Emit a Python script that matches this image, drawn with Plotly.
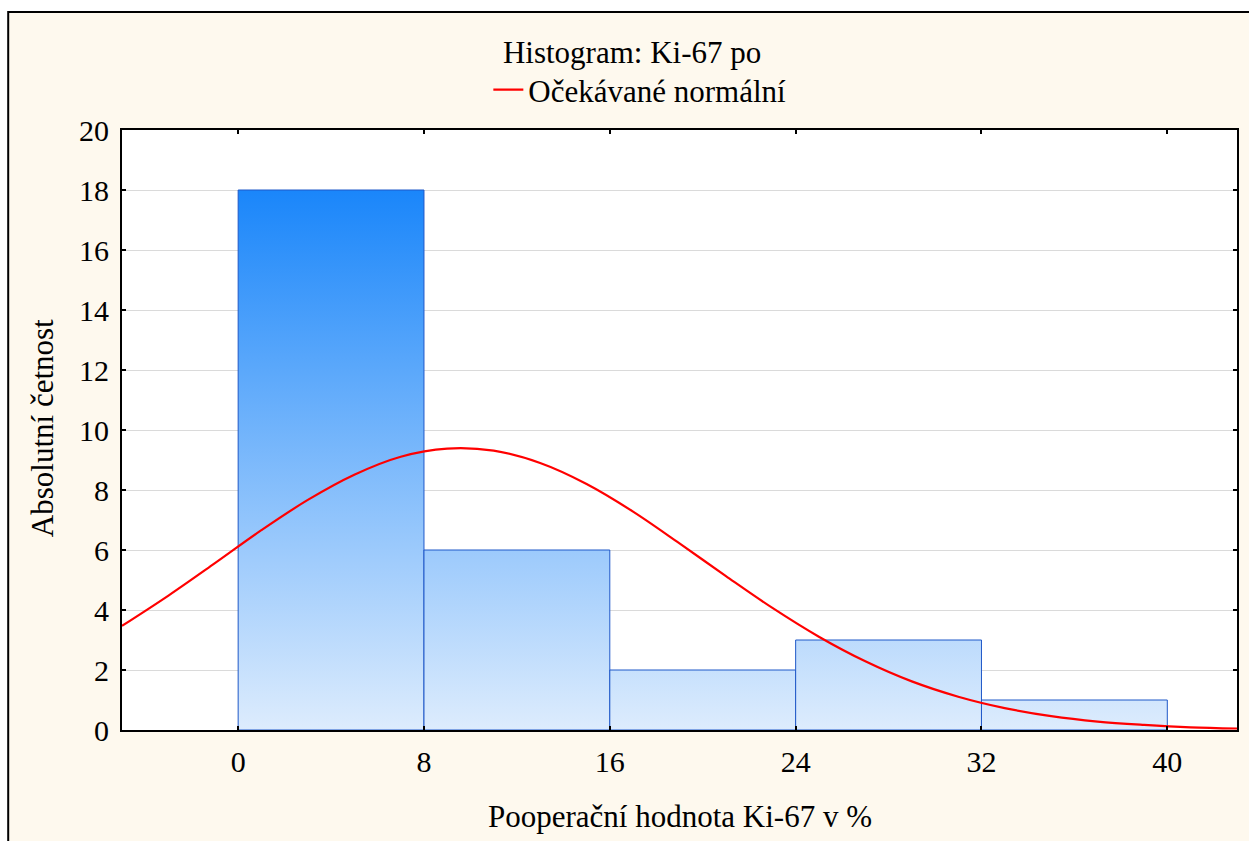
import plotly.graph_objects as go

# Histogram bins (Ki-67 %, bin edges) and absolute counts
bin_lo = [0, 8, 16, 24, 32]
bin_hi = [8, 16, 24, 32, 40]
counts = [18, 6, 2, 3, 1]

# Expected normal curve, sampled along the x axis
curve_x = [-5, -3, -1, 1, 3, 5, 7, 9, 11, 13, 15, 17, 19, 21, 23, 25,
           27, 29, 31, 33, 35, 37, 39, 41, 43]
curve_y = [3.47, 4.48, 5.56, 6.66, 7.67, 8.51, 9.11, 9.38, 9.31, 8.90,
           8.20, 7.28, 6.22, 5.13, 4.07, 3.11, 2.29, 1.62, 1.11, 0.73,
           0.46, 0.28, 0.17, 0.09, 0.05]

x_ticks = [0, 8, 16, 24, 32, 40]
y_ticks = [0, 2, 4, 6, 8, 10, 12, 14, 16, 18, 20]

FONT = "Liberation Serif"
CREAM = "#FEF9EE"
TXT = 31

fig = go.Figure()

# bars as filled outlines with a vertical gradient in data units
for lo, hi, c in zip(bin_lo, bin_hi, counts):
    fig.add_trace(go.Scatter(
        x=[lo, lo, hi, hi, lo],
        y=[0, c, c, 0, 0],
        mode="lines",
        fill="toself",
        fillgradient=dict(
            type="vertical",
            start=0,
            stop=max(counts),
            colorscale=[[0, "#DDECFD"], [1, "#1A86FA"]],
        ),
        line=dict(color="#1F58C8", width=1),
        showlegend=False,
        hoverinfo="skip",
    ))

fig.add_trace(go.Scatter(
    x=curve_x, y=curve_y,
    mode="lines",
    line=dict(color="#FF0000", width=2.2, shape="spline"),
    name="Očekávané normální",
    showlegend=True,
))

L, R, T, B = 122, 10, 130, 111
W, H = 1249, 841
pw, ph = W - L - R, H - T - B


def px_x(p):
    return (p - L) / pw


def px_y(p):
    return (H - B - p) / ph


fig.update_layout(
    width=W, height=H,
    margin=dict(l=L, r=R, t=T, b=B),
    paper_bgcolor="white",
    plot_bgcolor="white",
    font=dict(family=FONT, size=TXT, color="black"),
    title=dict(
        text="Histogram: Ki-67 po",
        x=px_x(633), xref="paper", xanchor="center",
        y=1 - 52 / H, yref="container", yanchor="middle",
        font=dict(family=FONT, size=TXT, color="black"),
    ),
    legend=dict(
        x=px_x(489), xanchor="left",
        y=px_y(90), yanchor="middle",
        bgcolor="rgba(0,0,0,0)",
        font=dict(family=FONT, size=TXT, color="black"),
        itemwidth=30,
    ),
    xaxis=dict(
        range=[-5, 43],
        tickvals=x_ticks,
        ticktext=[str(v) for v in x_ticks],
        showgrid=False, zeroline=False,
        showline=True, linecolor="black", linewidth=2, mirror="allticks",
        ticks="inside", ticklen=4, tickwidth=2, tickcolor="black",
        tickfont=dict(family=FONT, size=30, color="black"),
        ticklabelstandoff=4,
    ),
    yaxis=dict(
        range=[0, 20],
        tickvals=y_ticks,
        ticktext=[str(v) for v in y_ticks],
        showgrid=True, gridcolor="#DADADA", gridwidth=1,
        zeroline=False,
        showline=True, linecolor="black", linewidth=2, mirror="allticks",
        ticks="inside", ticklen=4, tickwidth=2, tickcolor="black",
        tickfont=dict(family=FONT, size=30, color="black"),
        ticklabelstandoff=5,
    ),
    shapes=[
        # cream panel with black frame behind everything
        dict(type="rect", xref="paper", yref="paper",
             x0=px_x(8), x1=px_x(W + 20), y0=px_y(12), y1=px_y(H + 20),
             fillcolor=CREAM, line=dict(color="black", width=2),
             layer="below"),
        # white plotting area on top of the panel
        dict(type="rect", xref="paper", yref="paper",
             x0=0, x1=1, y0=0, y1=1,
             fillcolor="white", line=dict(width=0), layer="below"),
    ],
    annotations=[
        dict(text="Pooperační hodnota Ki-67 v %",
             xref="paper", yref="paper", x=0.5, y=px_y(816),
             xanchor="center", yanchor="middle", showarrow=False,
             font=dict(family=FONT, size=TXT, color="black")),
        dict(text="Absolutní četnost",
             xref="paper", yref="paper", x=px_x(42), y=px_y(428),
             xanchor="center", yanchor="middle", textangle=-90,
             showarrow=False,
             font=dict(family=FONT, size=TXT, color="black")),
    ],
)

fig.write_html("out.html")
